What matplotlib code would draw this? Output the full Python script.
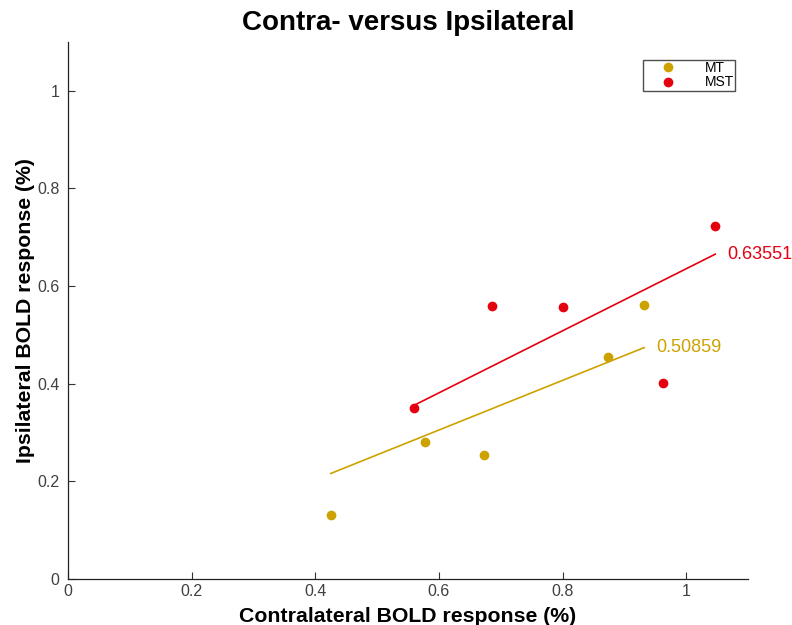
import matplotlib
matplotlib.use("Agg")
import matplotlib.pyplot as plt
import numpy as np

plt.rcParams['font.family'] = ['Liberation Sans', 'DejaVu Sans']

mt_x = [0.425, 0.578, 0.673, 0.874, 0.932]
mt_y = [0.131, 0.280, 0.254, 0.455, 0.561]
mst_x = [0.560, 0.686, 0.800, 0.962, 1.047]
mst_y = [0.350, 0.560, 0.558, 0.402, 0.724]
slope_vals = [0.50859, 0.63551]
names = ["MT", "MST"]
colors = ["#CDA200", "#E5000F"]
xticks = [0, 0.2, 0.4, 0.6, 0.8, 1]
yticks = [0, 0.2, 0.4, 0.6, 0.8, 1]

fig = plt.figure(figsize=(7.92, 6.25), dpi=100)
ax = fig.add_axes([68/792, 46/625, 680/792, 537/625])

for xs, ys, c, n, s in zip([mt_x, mst_x], [mt_y, mst_y], colors, names, slope_vals):
    xs = np.array(xs); ys = np.array(ys)
    ax.plot(xs, ys, 'o', color=c, markersize=7, markeredgewidth=0, label=n)
    xl = np.array([xs.min(), xs.max()])
    ax.plot(xl, s * xl, '-', color=c, lw=1.2)
    ax.text(xl[1] + 0.019, s * xl[1], f"{s:.5f}", color=c, fontsize=13,
            va='center', ha='left', clip_on=False)

ax.set_xlim(0, 1.1)
ax.set_ylim(0, 1.1)
ax.set_xticks(xticks)
ax.set_yticks(yticks)
ax.set_xticklabels([f"{t:g}" for t in xticks])
ax.set_yticklabels([f"{t:g}" for t in yticks])
ax.tick_params(direction='in', length=5, width=0.8, colors='#333333', labelsize=11.5,
               labelcolor='#404040')
ax.tick_params(axis='y', pad=6)
for sp in ['top', 'right']:
    ax.spines[sp].set_visible(False)
for sp in ['left', 'bottom']:
    ax.spines[sp].set_color('#222222')
    ax.spines[sp].set_linewidth(0.9)

ax.set_title("Contra- versus Ipsilateral", fontsize=20, fontweight='bold', pad=9)
ax.set_xlabel("Contralateral BOLD response (%)", fontsize=15.3, fontweight='bold', labelpad=6)
ax.set_ylabel("Ipsilateral BOLD response (%)", fontsize=15.3, fontweight='bold', labelpad=2)

h = [l for l in ax.lines if l.get_label() in names]
leg = ax.legend(handles=h, loc='upper right', bbox_to_anchor=(0.981, 0.967),
                fontsize=10, frameon=True, fancybox=False, edgecolor='#222222',
                borderpad=0.1, labelspacing=0.02, handletextpad=0.9, markerscale=1.0,
                handlelength=3.4, borderaxespad=0)
leg.get_frame().set_linewidth(1.0)

fig.savefig("out.png", dpi=100)
